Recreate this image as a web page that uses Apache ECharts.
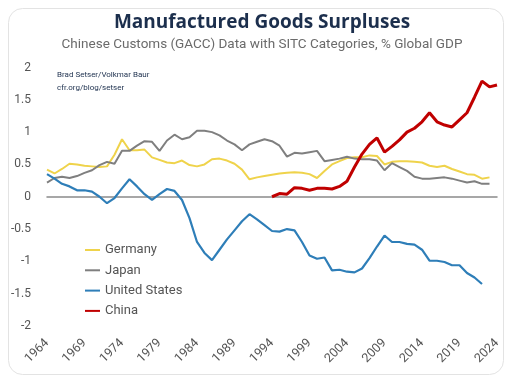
<!DOCTYPE html>
<html>
<head>
<meta charset="utf-8">
<script src="https://cdn.jsdelivr.net/npm/echarts@6/dist/echarts.min.js"></script>
<style>
html,body{margin:0;padding:0;background:#fff;}
#c{width:511px;height:378px;}
</style>
</head>
<body>
<div id="c"></div>
<script>
const firstYear = 1964, lastYear = 2024;
const germanyStart = 1964;
const germany = [0.42,0.36,0.43,0.51,0.50,0.48,0.47,0.46,0.47,0.65,0.89,0.72,0.72,0.73,0.61,0.57,0.53,0.52,0.56,0.49,0.47,0.50,0.58,0.59,0.56,0.51,0.42,0.27,0.30,0.32,0.34,0.36,0.37,0.38,0.37,0.35,0.29,0.40,0.50,0.55,0.60,0.61,0.61,0.64,0.63,0.50,0.54,0.55,0.55,0.54,0.53,0.48,0.46,0.48,0.43,0.39,0.35,0.34,0.28,0.30];
const japanStart = 1964;
const japan = [0.22,0.29,0.31,0.29,0.32,0.37,0.41,0.49,0.54,0.51,0.71,0.71,0.79,0.86,0.85,0.71,0.87,0.96,0.89,0.92,1.02,1.02,1.00,0.95,0.87,0.81,0.72,0.81,0.85,0.89,0.86,0.79,0.62,0.68,0.67,0.69,0.71,0.55,0.57,0.59,0.62,0.59,0.58,0.58,0.56,0.41,0.52,0.46,0.40,0.31,0.28,0.28,0.29,0.30,0.28,0.25,0.22,0.24,0.20,0.20];
const usStart = 1964;
const unitedStates = [0.35,0.28,0.20,0.16,0.10,0.10,0.08,0.00,-0.10,-0.02,0.13,0.27,0.16,0.04,-0.05,0.04,0.12,0.09,-0.05,-0.33,-0.70,-0.87,-0.98,-0.82,-0.66,-0.52,-0.38,-0.27,-0.35,-0.44,-0.53,-0.54,-0.50,-0.52,-0.70,-0.91,-0.96,-0.94,-1.14,-1.13,-1.16,-1.17,-1.11,-0.95,-0.77,-0.60,-0.70,-0.70,-0.73,-0.74,-0.82,-0.99,-0.99,-1.01,-1.06,-1.06,-1.18,-1.25,-1.35];
const chinaStart = 1994;
const china = [0.00,0.05,0.04,0.14,0.13,0.10,0.13,0.13,0.12,0.16,0.24,0.46,0.66,0.81,0.91,0.69,0.78,0.88,1.00,1.06,1.16,1.30,1.16,1.11,1.08,1.19,1.30,1.54,1.79,1.70,1.73];
const yTicks = [-2,-1.5,-1,-0.5,0,0.5,1,1.5,2];

const years = [];
for (let y = firstYear; y <= lastYear; y++) years.push(String(y));
function align(start, vals) {
  return years.map((y) => {
    const i = Number(y) - start;
    return (i >= 0 && i < vals.length) ? vals[i] : null;
  });
}

const chart = echarts.init(document.getElementById('c'));
const font = 'Roboto';
chart.setOption({
  animation: false,
  backgroundColor: '#fff',
  graphic: [
    {type: 'rect', shape: {x: 8.5, y: 8.5, width: 495, height: 366, r: 14}, style: {fill: 'none', stroke: '#e3e3e3', lineWidth: 1}, silent: true, z: -1},
    {type: 'text', x: 262, y: 13, style: {text: 'Manufactured Goods Surpluses', textAlign: 'center', fontSize: 19, fontWeight: 'bold', fill: '#1c2f4d', fontFamily: 'Open Sans'}},
    {type: 'text', x: 262, y: 38, style: {text: 'Chinese Customs (GACC) Data with SITC Categories, % Global GDP', textAlign: 'center', fontSize: 13.5, fill: '#6b6b6b', fontFamily: font}},
    {type: 'text', left: 57, top: 71, style: {text: 'Brad Setser/Volkmar Baur', fontSize: 8, fill: '#1c2f4d', fontFamily: font}},
    {type: 'text', left: 57, top: 84, style: {text: 'cfr.org/blog/setser', fontSize: 8, fill: '#1c2f4d', fontFamily: font}}
  ],
  legend: {
    data: ['Germany', 'Japan', 'United States', 'China'],
    orient: 'vertical', left: 80, top: 238,
    icon: 'rect', itemWidth: 15, itemHeight: 2, itemGap: 6.3,
    textStyle: {fontSize: 13, color: '#555', fontFamily: font, lineHeight: 14}
  },
  grid: {left: 47, right: 14, top: 67.5, bottom: 52, containLabel: false},
  xAxis: [
    {type: 'category', data: years, boundaryGap: false,
     axisLine: {show: false, onZero: false}, axisTick: {show: false},
     axisLabel: {interval: 4, rotate: 45, color: '#555', fontSize: 12.5, margin: 15, fontFamily: font},
     splitLine: {show: false}},
    {type: 'category', data: years, boundaryGap: false, position: 'bottom',
     axisLine: {show: true, onZero: true, lineStyle: {color: '#8a8a8a', width: 1.5}},
     axisTick: {show: false}, axisLabel: {show: false}, splitLine: {show: false}}
  ],
  yAxis: {
    type: 'value', min: yTicks[0], max: yTicks[yTicks.length - 1], interval: 0.5,
    splitLine: {show: false}, axisLine: {show: false}, axisTick: {show: false},
    axisLabel: {color: '#555', fontSize: 12, margin: 16, fontFamily: font}
  },
  series: [
    {name: 'Germany', type: 'line', data: align(germanyStart, germany), showSymbol: false, symbol: 'none',
     lineStyle: {color: '#EFD34B', width: 2}, itemStyle: {color: '#EFD34B'}},
    {name: 'Japan', type: 'line', data: align(japanStart, japan), showSymbol: false, symbol: 'none',
     lineStyle: {color: '#7f7f7f', width: 2}, itemStyle: {color: '#7f7f7f'}},
    {name: 'United States', type: 'line', data: align(usStart, unitedStates), showSymbol: false, symbol: 'none',
     lineStyle: {color: '#2E7EB8', width: 2.2}, itemStyle: {color: '#2E7EB8'}},
    {name: 'China', type: 'line', data: align(chinaStart, china), showSymbol: false, symbol: 'none',
     lineStyle: {color: '#C00000', width: 3}, itemStyle: {color: '#C00000'}}
  ]
});
</script>
</body>
</html>
